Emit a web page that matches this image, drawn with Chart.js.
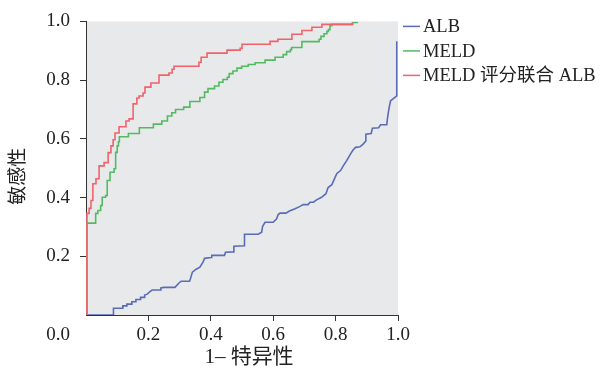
<!DOCTYPE html>
<html>
<head>
<meta charset="utf-8">
<title>ROC</title>
<script src="https://cdn.jsdelivr.net/npm/chart.js@4.4.1/dist/chart.umd.min.js"></script>
<style>
  html, body { margin: 0; padding: 0; background: #fff; }
  #wrap { width: 614px; height: 374px; }
</style>
</head>
<body>
<div id="wrap"><canvas id="roc" width="614" height="374"></canvas></div>
<script>
// ROC curves (1 - specificity vs sensitivity)
const SERIES_NAMES = ['ALB', 'MELD', 'MELD 评分联合 ALB'];
const SERIES_COLORS = ['#5a6cb8', '#52bb62', '#f0636c'];
const TICK_VALUES = [0, 0.2, 0.4, 0.6, 0.8, 1.0];
const X_TITLE = '1– 特异性';
const Y_TITLE = '敏感性';

// ALB: drawn as a plain polyline (ties give slanted bits)
const albFpr = [0, 0.088, 0.088, 0.118, 0.118, 0.131, 0.131, 0.147, 0.147, 0.160, 0.160, 0.175, 0.175, 0.186,
  0.188, 0.196, 0.207, 0.212, 0.240, 0.240, 0.250, 0.285, 0.298, 0.305, 0.332, 0.335, 0.341, 0.353, 0.365,
  0.375, 0.380, 0.401, 0.403, 0.444, 0.447, 0.472, 0.474, 0.508, 0.508, 0.552, 0.563, 0.566, 0.574, 0.600,
  0.611, 0.616, 0.622, 0.641, 0.652, 0.670, 0.686, 0.696, 0.712, 0.718, 0.729, 0.739, 0.755, 0.769, 0.776,
  0.788, 0.798, 0.804, 0.816, 0.825, 0.835, 0.841, 0.848, 0.856, 0.864, 0.878, 0.889, 0.897, 0.897, 0.914,
  0.918, 0.938, 0.944, 0.964, 0.966, 0.969, 0.972, 0.976, 0.984, 0.996, 0.996];
const albTpr = [0, 0, 0.023, 0.023, 0.031, 0.031, 0.037, 0.037, 0.045, 0.045, 0.053, 0.053, 0.060, 0.060,
  0.068, 0.071, 0.081, 0.085, 0.085, 0.092, 0.094, 0.094, 0.109, 0.115, 0.115, 0.124, 0.146, 0.156, 0.163,
  0.180, 0.193, 0.196, 0.203, 0.203, 0.214, 0.215, 0.234, 0.236, 0.275, 0.275, 0.282, 0.302, 0.316, 0.316,
  0.328, 0.342, 0.347, 0.347, 0.354, 0.362, 0.370, 0.376, 0.376, 0.384, 0.384, 0.392, 0.401, 0.413, 0.434,
  0.444, 0.468, 0.482, 0.492, 0.509, 0.525, 0.536, 0.549, 0.562, 0.571, 0.573, 0.583, 0.593, 0.616, 0.618,
  0.636, 0.638, 0.648, 0.648, 0.668, 0.689, 0.709, 0.729, 0.736, 0.746, 0.932];

// MELD: step curve, each point is the top of a riser
const meldFpr = [0.003, 0.003, 0.031, 0.038, 0.047, 0.052, 0.063, 0.068, 0.077, 0.090, 0.095, 0.100, 0.104,
  0.107, 0.136, 0.171, 0.216, 0.243, 0.261, 0.275, 0.287, 0.313, 0.333, 0.365, 0.380, 0.391, 0.412, 0.426,
  0.439, 0.453, 0.459, 0.471, 0.484, 0.499, 0.520, 0.542, 0.574, 0.606, 0.632, 0.643, 0.655, 0.659, 0.692,
  0.747, 0.753, 0.763, 0.772, 0.777, 0.782, 0.788, 0.855, 0.872];
const meldTpr = [0, 0.313, 0.346, 0.356, 0.373, 0.401, 0.407, 0.458, 0.486, 0.498, 0.554, 0.576, 0.590,
  0.607, 0.618, 0.638, 0.650, 0.661, 0.678, 0.689, 0.700, 0.708, 0.727, 0.741, 0.759, 0.771, 0.780, 0.793,
  0.802, 0.810, 0.822, 0.831, 0.841, 0.847, 0.853, 0.859, 0.868, 0.878, 0.887, 0.897, 0.904, 0.911, 0.931,
  0.939, 0.949, 0.958, 0.966, 0.972, 0.985, 0.990, 0.996, 0.996];

// MELD + ALB combined
const comboFpr = [0.003, 0.003, 0.010, 0.016, 0.022, 0.032, 0.042, 0.058, 0.071, 0.080, 0.087, 0.093, 0.106,
  0.128, 0.138, 0.151, 0.163, 0.170, 0.183, 0.189, 0.208, 0.234, 0.266, 0.276, 0.282, 0.362, 0.369, 0.388,
  0.452, 0.494, 0.500, 0.590, 0.615, 0.660, 0.692, 0.724, 0.756, 0.853];
const comboTpr = [0, 0.346, 0.363, 0.390, 0.447, 0.464, 0.508, 0.519, 0.553, 0.576, 0.597, 0.620, 0.641,
  0.661, 0.668, 0.719, 0.739, 0.746, 0.756, 0.776, 0.790, 0.817, 0.824, 0.837, 0.847, 0.861, 0.878, 0.892,
  0.902, 0.908, 0.922, 0.932, 0.939, 0.956, 0.969, 0.980, 0.990, 0.996];

const FONT_FAMILY = '"Liberation Serif", "Noto Sans CJK SC", serif';
const INK = '#222';
const AXIS = '#333';
const PLOT_BG = '#e8e9eb';
const TICK_LEN = 6;
const TICK_PAD = 3;
const TICK_FONT = 19;

function toPoints(xs, ys) {
  return xs.map((x, i) => ({ x, y: ys[i] }));
}

function fmt(v) {
  return Math.abs(v) < 1e-9 ? '' : v.toFixed(1);
}

const plotBackground = {
  id: 'plotBackground',
  beforeDraw(chart) {
    const { ctx, chartArea: a } = chart;
    ctx.save();
    ctx.fillStyle = PLOT_BG;
    ctx.fillRect(a.left, a.top, a.right - a.left, a.bottom - a.top);
    ctx.restore();
  },
};

// axis titles, the shared origin label on the x tick row, and the line legend
const extras = {
  id: 'extras',
  afterDraw(chart) {
    const { ctx, chartArea: a } = chart;
    const xs = chart.scales.x;
    const ys = chart.scales.y;
    ctx.save();
    ctx.fillStyle = INK;
    ctx.font = `${TICK_FONT}px ${FONT_FAMILY}`;
    ctx.textAlign = 'right';
    ctx.textBaseline = 'middle';
    ctx.fillText('0.0', ys.right - TICK_LEN - 10, xs.top + TICK_LEN + TICK_PAD + TICK_FONT * 0.6);

    // x title
    ctx.textAlign = 'center';
    ctx.font = `21px ${FONT_FAMILY}`;
    ctx.fillText(X_TITLE, (a.left + a.right) / 2 + 7, xs.bottom - 17);

    // y title, rotated
    ctx.save();
    ctx.translate(19, (a.top + a.bottom) / 2 + 8);
    ctx.rotate(-Math.PI / 2);
    ctx.font = `19px ${FONT_FAMILY}`;
    ctx.fillText(Y_TITLE, 0, 0);
    ctx.restore();

    ctx.font = `18.5px ${FONT_FAMILY}`;
    ctx.textAlign = 'left';
    SERIES_NAMES.forEach((name, i) => {
      const y = a.top + 5 + i * 24.5;
      ctx.strokeStyle = SERIES_COLORS[i];
      ctx.lineWidth = 1.5;
      ctx.beginPath();
      ctx.moveTo(a.right + 5, y);
      ctx.lineTo(a.right + 22, y);
      ctx.stroke();
      ctx.fillStyle = INK;
      ctx.fillText(name, a.right + 25, y + 1);
    });
    ctx.restore();
  },
};

function tickColor(c) {
  return c.tick && c.tick.value === 0 ? 'rgba(0,0,0,0)' : AXIS;
}

const canvas = document.getElementById('roc');
new Chart(canvas, {
  type: 'line',
  data: {
    datasets: [
      // lower order is painted on top: red over green over blue
      { label: SERIES_NAMES[0], data: toPoints(albFpr, albTpr), borderColor: SERIES_COLORS[0], stepped: false, order: 2 },
      { label: SERIES_NAMES[1], data: toPoints(meldFpr, meldTpr), borderColor: SERIES_COLORS[1], stepped: 'before', order: 1 },
      { label: SERIES_NAMES[2], data: toPoints(comboFpr, comboTpr), borderColor: SERIES_COLORS[2], stepped: 'before', order: 0 },
    ].map((d) => ({ ...d, borderWidth: 1.6, pointRadius: 0, tension: 0, fill: false })),
  },
  options: {
    responsive: false,
    animation: false,
    layout: { padding: { left: 0, top: 20, right: 216, bottom: 0 } },
    plugins: { legend: { display: false }, tooltip: { enabled: false } },
    scales: {
      x: {
        type: 'linear',
        min: 0,
        max: 1,
        afterBuildTicks: (s) => { s.ticks = TICK_VALUES.map((v) => ({ value: v })); },
        afterFit: (s) => { s.height = 59; },
        ticks: { color: INK, padding: TICK_PAD, font: { family: FONT_FAMILY, size: TICK_FONT }, callback: fmt, maxRotation: 0 },
        grid: { drawOnChartArea: false, drawTicks: true, tickLength: TICK_LEN, color: tickColor },
        border: { display: true, color: AXIS, width: 1 },
      },
      y: {
        type: 'linear',
        min: 0,
        max: 1,
        afterBuildTicks: (s) => { s.ticks = TICK_VALUES.map((v) => ({ value: v })); },
        afterFit: (s) => { s.width = 86; },
        ticks: { color: INK, padding: 10, font: { family: FONT_FAMILY, size: TICK_FONT }, callback: fmt },
        grid: { drawOnChartArea: false, drawTicks: true, tickLength: TICK_LEN, color: tickColor },
        border: { display: true, color: AXIS, width: 1 },
      },
    },
  },
  plugins: [plotBackground, extras],
});
</script>
</body>
</html>
